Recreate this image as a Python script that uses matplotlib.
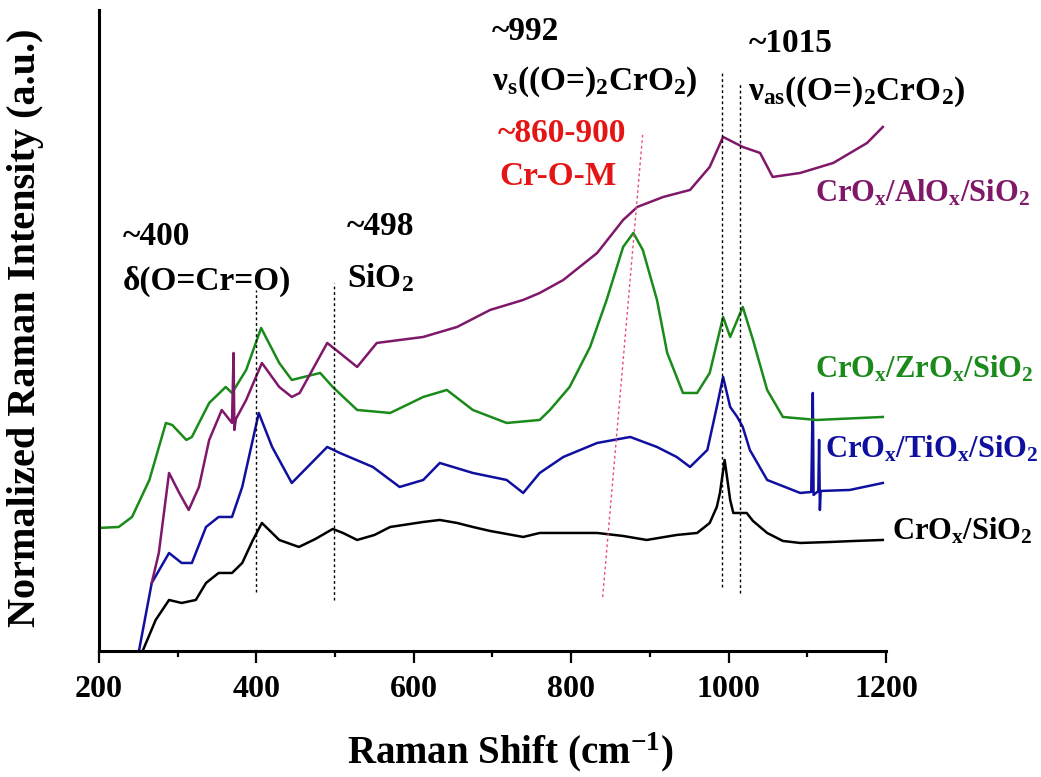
import matplotlib
matplotlib.use("Agg")
import matplotlib.pyplot as plt

# ---- data (y in arbitrary offset units) ----
black_x = [250, 256, 272, 289, 305, 323, 336, 352, 369, 382, 395, 407, 420, 429, 454, 475, 497,
           510, 528, 550, 570, 612, 633, 655, 675, 697, 739, 760, 800, 833, 866, 896, 934, 960,
           976, 985, 989, 995, 1002, 1006, 1014, 1023, 1031, 1049, 1069, 1091, 1130, 1160, 1196]
black_y = [-8, 1, 31, 51, 48, 51, 68, 78, 78, 88, 110, 128, 118, 111, 104, 112, 122,
           118, 111, 116, 124, 129, 131, 128, 124, 120, 114, 118, 118, 118, 115, 111, 116, 118,
           128, 144, 158, 191, 151, 138, 138, 138, 130, 118, 110, 108, 109, 110, 111]

blue_x = [246, 251, 267, 289, 305, 318, 336, 352, 369, 382, 403, 420, 438, 445, 490, 506, 548,
          582, 612, 633, 675, 718, 739, 760, 790, 833, 875, 909, 934, 951, 973, 985, 993, 1002,
          1011, 1018, 1027, 1049, 1091, 1105, 1107, 1108, 1114, 1115, 1116, 1117, 1154, 1196]
blue_y = [-12, 1, 68, 98, 88, 88, 124, 134, 134, 164, 238, 204, 178, 168, 204, 198, 184,
          164, 171, 188, 178, 171, 158, 178, 194, 208, 214, 204, 194, 184, 201, 244, 274, 244,
          234, 224, 201, 171, 158, 159, 258, 156, 160, 211, 141, 160, 161, 168]

green_x = [200, 225, 242, 264, 285, 293, 311, 318, 340, 361, 369, 387, 406, 429, 445, 481, 497,
           528, 570, 612, 642, 675, 718, 760, 773, 798, 824, 845, 866, 879, 891, 909, 922, 942,
           960, 976, 993, 1002, 1018, 1031, 1049, 1069, 1112, 1196]
green_y = [123, 124, 134, 171, 228, 226, 211, 214, 248, 264, 258, 281, 323, 288, 271, 278, 264,
           241, 238, 254, 261, 241, 228, 231, 241, 264, 304, 351, 404, 418, 401, 351, 298, 258,
           258, 278, 334, 314, 344, 311, 261, 234, 231, 234]

purple_x = [267, 276, 289, 302, 314, 327, 340, 356, 369, 371, 372, 374, 387, 407, 429, 445, 455,
            490, 506, 528, 553, 612, 655, 697, 739, 760, 790, 833, 866, 884, 917, 951, 976, 993,
            1018, 1040, 1056, 1091, 1133, 1176, 1196]
purple_y = [68, 98, 178, 158, 141, 164, 211, 241, 228, 298, 221, 232, 251, 288, 264, 254, 258,
            308, 298, 284, 308, 314, 324, 341, 351, 358, 371, 398, 431, 444, 454, 461, 484, 514,
            504, 498, 474, 478, 488, 508, 524]

xticks_major = [200, 400, 600, 800, 1000, 1200]
xticks_minor = [300, 500, 700, 900, 1100]
ref_lines = [400, 498, 992, 1015]

plt.rcParams['mathtext.fontset'] = 'custom'
plt.rcParams['mathtext.rm'] = 'Liberation Serif:bold'
plt.rcParams['mathtext.bf'] = 'Liberation Serif:bold'
plt.rcParams['mathtext.it'] = 'Liberation Serif:bold:italic'
plt.rcParams['font.family'] = ['Liberation Serif', 'DejaVu Serif']
plt.rcParams['font.weight'] = 'bold'

C_BLACK = '#000000'
C_BLUE = '#1010a0'
C_GREEN = '#1a8a1a'
C_PURPLE = '#80186a'
C_RED = '#e51515'

fig = plt.figure(figsize=(10.41, 7.77), dpi=100)
ax = fig.add_axes([0.0951, 0.1622, 0.756, 0.825])

lw = 1.8
ax.plot(black_x, black_y, color=C_BLACK, lw=lw)
ax.plot(blue_x, blue_y, color=C_BLUE, lw=lw)
ax.plot(green_x, green_y, color=C_GREEN, lw=lw)
ax.plot(purple_x, purple_y, color=C_PURPLE, lw=lw)

# reference dotted lines
ref_bottom = [59, 51, 64, 58]
ref_top = [361, 368, 578, 569]
for xv, b, t in zip(ref_lines, ref_bottom, ref_top):
    ax.plot([xv, xv], [b, t], color='black', lw=1.0, ls=(0, (2, 2)))
ax.plot([840, 891], [54, 518], color='#e8507a', lw=1.0, ls=(0, (2, 2)))

ax.set_xlim(200, 1200)
ax.set_ylim(0, 641)
ax.spines['top'].set_visible(False)
ax.spines['right'].set_visible(False)
ax.spines['left'].set_linewidth(2.2)
ax.spines['bottom'].set_linewidth(2.2)
ax.set_yticks([])
ax.set_xticks(xticks_major)
ax.set_xticks(xticks_minor, minor=True)
ax.tick_params(axis='x', which='major', direction='out', length=8.5, width=1.6, pad=9,
               labelsize=23)
ax.tick_params(axis='x', which='minor', direction='out', length=4, width=1.6)
for lab in ax.get_xticklabels():
    lab.set_fontweight('bold')

ax.set_xlabel('Raman Shift (cm$^{-1}$)', fontsize=28, fontweight='bold')
ax.xaxis.set_label_coords(0.522, -0.1747)
ax.xaxis.label.set_va('baseline')
ax.set_ylabel('Normalized Raman Intensity (a.u.)', fontsize=29, fontweight='bold')
ax.yaxis.set_label_coords(-0.0928, 0.505)
ax.yaxis.label.set_va('center')

fs = 24
ax.text(230, 406, '~400', fontsize=fs, fontweight='bold', va='baseline')
ax.text(230, 361, 'δ(O=Cr=O)', fontsize=fs, fontweight='bold', va='baseline')
ax.text(515, 416, '~498', fontsize=fs, fontweight='bold', va='baseline')
ax.text(515, 364, 'SiO$_2$', fontsize=fs, fontweight='bold', va='baseline')
ax.text(699, 611, '~992', fontsize=fs, fontweight='bold', va='baseline')
ax.text(699, 561, 'ν$_\\mathrm{s}$((O=)$_2$CrO$_2$)', fontsize=fs, fontweight='bold', va='baseline')
ax.text(1025, 599, '~1015', fontsize=fs, fontweight='bold', va='baseline')
ax.text(1025, 551, 'ν$_\\mathrm{as}$((O=)$_2$CrO$_2$)', fontsize=fs, fontweight='bold',
        va='baseline', clip_on=False)
ax.text(707, 509, '~860-900', fontsize=24, fontweight='bold', va='baseline', color=C_RED)
ax.text(709, 466, 'Cr-O-M', fontsize=24, fontweight='bold', va='baseline', color=C_RED)

lfs = 22
ax.text(1110, 449, 'CrO$_\\mathrm{x}$/AlO$_\\mathrm{x}$/SiO$_2$', fontsize=lfs, fontweight='bold',
        va='baseline', color=C_PURPLE, clip_on=False)
ax.text(1110, 273, 'CrO$_\\mathrm{x}$/ZrO$_\\mathrm{x}$/SiO$_2$', fontsize=lfs, fontweight='bold',
        va='baseline', color=C_GREEN, clip_on=False)
ax.text(1122, 193, 'CrO$_\\mathrm{x}$/TiO$_\\mathrm{x}$/SiO$_2$', fontsize=lfs, fontweight='bold',
        va='baseline', color=C_BLUE, clip_on=False)
ax.text(1207, 111, 'CrO$_\\mathrm{x}$/SiO$_2$', fontsize=lfs, fontweight='bold',
        va='baseline', color=C_BLACK, clip_on=False)

fig.savefig('out.png', dpi=100)
